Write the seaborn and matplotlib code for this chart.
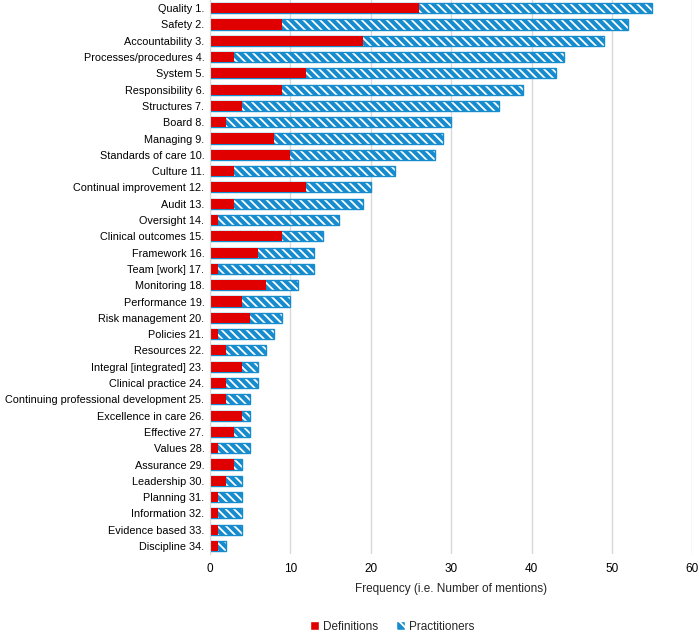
import pandas as pd
import matplotlib
matplotlib.use('Agg')
import matplotlib.pyplot as plt
import seaborn as sns
from matplotlib.patches import Patch

# Data
terms = ['Quality 1.', 'Safety 2.', 'Accountability 3.', 'Processes/procedures 4.', 'System 5.',
         'Responsibility 6.', 'Structures 7.', 'Board 8.', 'Managing 9.', 'Standards of care 10.',
         'Culture 11.', 'Continual improvement 12.', 'Audit 13.', 'Oversight 14.',
         'Clinical outcomes 15.', 'Framework 16.', 'Team [work] 17.', 'Monitoring 18.',
         'Performance 19.', 'Risk management 20.', 'Policies 21.', 'Resources 22.',
         'Integral [integrated] 23.', 'Clinical practice 24.',
         'Continuing professional development 25.', 'Excellence in care 26.', 'Effective 27.',
         'Values 28.', 'Assurance 29.', 'Leadership 30.', 'Planning 31.', 'Information 32.',
         'Evidence based 33.', 'Discipline 34.']
definitions = [26, 9, 19, 3, 12, 9, 4, 2, 8, 10, 3, 12, 3, 1, 9, 6, 1, 7, 4, 5, 1, 2, 4, 2,
               2, 4, 3, 1, 3, 2, 1, 1, 1, 1]
practitioners = [29, 43, 30, 41, 31, 30, 32, 28, 21, 18, 20, 8, 16, 15, 5, 7, 12, 4, 6, 4, 7, 5,
                 2, 4, 3, 1, 2, 4, 1, 2, 3, 3, 3, 1]

df = pd.DataFrame({'term': terms, 'Definitions': definitions, 'Practitioners': practitioners})
df['total'] = df['Definitions'] + df['Practitioners']

red = '#E00000'
blue = '#168CCE'

sns.set_style('white')
plt.rcParams['font.family'] = ['Liberation Sans', 'DejaVu Sans']
plt.rcParams['hatch.linewidth'] = 1.3

fig = plt.figure(figsize=(7, 6.37), dpi=100)
ax = fig.add_axes([0.30, 0.13, 0.689, 0.87])

# practitioners stacked on top of definitions: draw totals hatched, then definitions over it
sns.barplot(data=df, y='term', x='total', color=blue, width=0.62, orient='h', ax=ax,
            saturation=1, edgecolor='white', linewidth=0)
for p in ax.patches:
    p.set_hatch('\\\\\\\\')
sns.barplot(data=df, y='term', x='total', color=blue, width=0.62, orient='h', ax=ax,
            fill=False, linewidth=1.0, edgecolor=blue)
sns.barplot(data=df, y='term', x='Definitions', color=red, width=0.62, orient='h', ax=ax,
            saturation=1, linewidth=0)

ax.set_xlim(0, 60)
ax.set_xticks(range(0, 61, 10))
ax.grid(axis='x', color='#D9D9D9', linewidth=1)
ax.set_axisbelow(True)
for s in ['top', 'right', 'bottom']:
    ax.spines[s].set_visible(False)
ax.spines['left'].set_color('#D9D9D9')
ax.tick_params(axis='both', length=0, colors='black')
ax.tick_params(axis='y', pad=4, labelsize=7.8)
ax.tick_params(axis='x', pad=6, labelsize=8.5)
ax.set_ylabel('')
ax.set_xlabel('Frequency (i.e. Number of mentions)', fontsize=8.5, labelpad=6)

handles = [Patch(facecolor=red, label='Definitions'),
           Patch(facecolor=blue, edgecolor='white', hatch='\\\\\\', label='Practitioners')]
fig.legend(handles=handles, loc='lower center', ncol=2, frameon=False, fontsize=8.5,
           bbox_to_anchor=(0.56, -0.01), handlelength=0.8, handleheight=0.8,
           handletextpad=0.3, columnspacing=1.5)

fig.savefig('out.png', dpi=100)
